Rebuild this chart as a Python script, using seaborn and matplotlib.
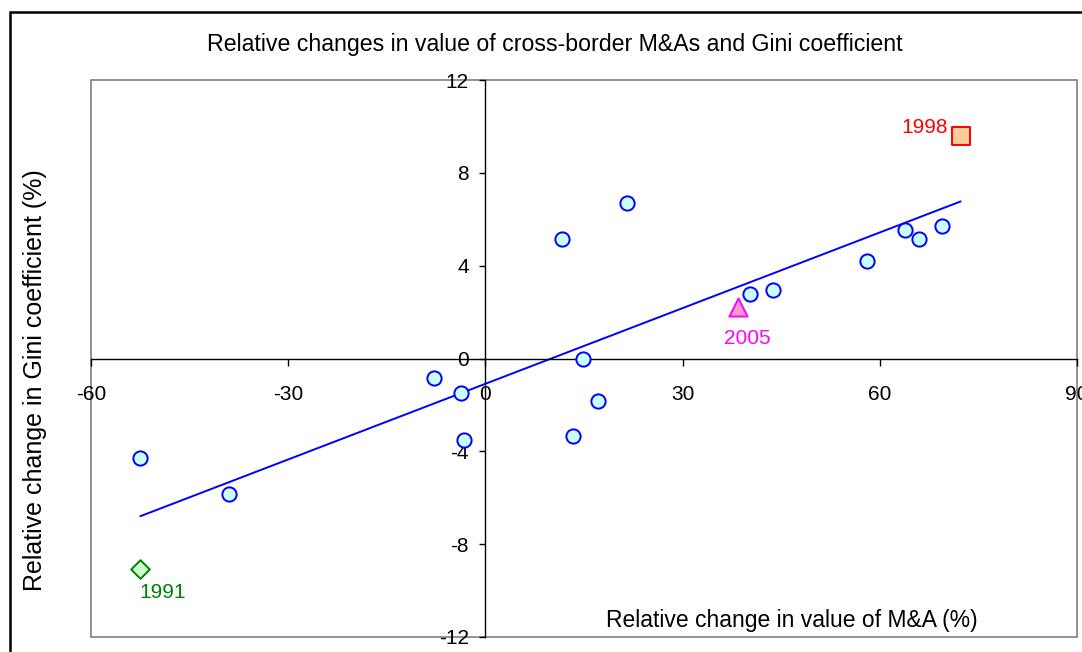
import pandas as pd
import seaborn as sns
import matplotlib.pyplot as plt
from matplotlib.patches import Rectangle

# countries / years -- relative changes (%)
ma_change = [-52.5, -39.0, -7.8, -3.65, -3.2, 11.6, 14.8, 13.4, 17.2, 21.6,
             40.3, 43.8, 58.1, 63.9, 65.9, 69.4]
gini_change = [-4.27, -5.82, -0.86, -1.5, -3.5, 5.13, 0.0, -3.36, -1.85, 6.68,
               2.8, 2.97, 4.18, 5.52, 5.13, 5.73]

# highlighted years
years = ["1991", "1998", "2005"]
years_ma = [-52.5, 72.3, 38.5]
years_gini = [-9.05, 9.57, 2.24]

x_ticks = [-60, -30, 0, 30, 60, 90]
y_ticks = [-12, -8, -4, 0, 4, 8, 12]

data = pd.DataFrame({"ma": ma_change + years_ma, "gini": gini_change + years_gini})
others = pd.DataFrame({"ma": ma_change, "gini": gini_change})

sns.set_theme(style="white")
plt.rcParams["font.family"] = ["Liberation Sans", "DejaVu Sans"]
plt.rcParams["axes.unicode_minus"] = False
plt.rcParams["text.color"] = "black"
plt.rcParams["xtick.color"] = "black"
plt.rcParams["ytick.color"] = "black"

fig = plt.figure(figsize=(10.82, 6.52), dpi=100)
ax = fig.add_axes([91 / 1082, 15 / 652, 986 / 1082, 557 / 652])

# trend line over all points
sns.regplot(x="ma", y="gini", data=data, ci=None, scatter=False, ax=ax,
            line_kws={"color": "#0000FF", "linewidth": 1.4})

sns.scatterplot(x="ma", y="gini", data=others, ax=ax, marker="o", s=105,
                color="#CCFFFF", edgecolor="#0000FF", linewidth=1.4, zorder=4)

styles = [("D", "#CCFFCC", "#008000", 90), ("s", "#FFCC99", "#FF0000", 150),
          ("^", "#FF99CC", "#FF00FF", 170)]
for i, (mk, fc, ec, sz) in enumerate(styles):
    sns.scatterplot(x=[years_ma[i]], y=[years_gini[i]], ax=ax, marker=mk, s=sz,
                    color=fc, edgecolor=ec, linewidth=1.4, zorder=5)

ax.text(-52.6, -10.1, years[0], color="#008000", fontsize=15, ha="left", va="center")
ax.text(70.3, 9.96, years[1], color="#FF0000", fontsize=15, ha="right", va="center")
ax.text(39.9, 0.86, years[2], color="#FF00FF", fontsize=15, ha="center", va="center")

ax.set_xlim(-60, 90)
ax.set_ylim(-12, 12)
ax.set_xticks(x_ticks)
ax.set_yticks(y_ticks)
ax.set_xlabel("")
ax.set_ylabel("")

# axes crossing at the origin
ax.spines["left"].set_position("zero")
ax.spines["bottom"].set_position("zero")
ax.spines["top"].set_visible(False)
ax.spines["right"].set_visible(False)
for s in ["left", "bottom"]:
    ax.spines[s].set_color("black")
    ax.spines[s].set_linewidth(1.0)
ax.tick_params(axis="x", direction="out", length=5, width=1,
               pad=14, labelsize=15, bottom=True)
ax.tick_params(axis="y", direction="out", length=4, width=1,
               pad=8, labelsize=15, left=True)

# plot area frame
ax.add_patch(Rectangle((0, 0), 1, 1, transform=ax.transAxes, fill=False,
                       edgecolor="#808080", linewidth=1.2, clip_on=False, zorder=0))

ax.text(0.711, 0.03, "Relative change in value of M&A (%)", transform=ax.transAxes,
        fontsize=16.5, ha="center", va="center")
fig.text(35 / 1082, 1 - 380 / 652, "Relative change in Gini coefficient (%)",
         rotation=90, fontsize=18, ha="center", va="center")
fig.text(555 / 1082, 1 - 44 / 652,
         "Relative changes in value of cross-border M&As and Gini coefficient",
         fontsize=16.7, ha="center", va="center")

# outer chart border
fig.patches.append(Rectangle((10 / 1082, -0.1), 1.2, 1 - 12 / 652 + 0.1,
                             transform=fig.transFigure, fill=False,
                             edgecolor="black", linewidth=1.8))

fig.savefig("out.png", dpi=100)
